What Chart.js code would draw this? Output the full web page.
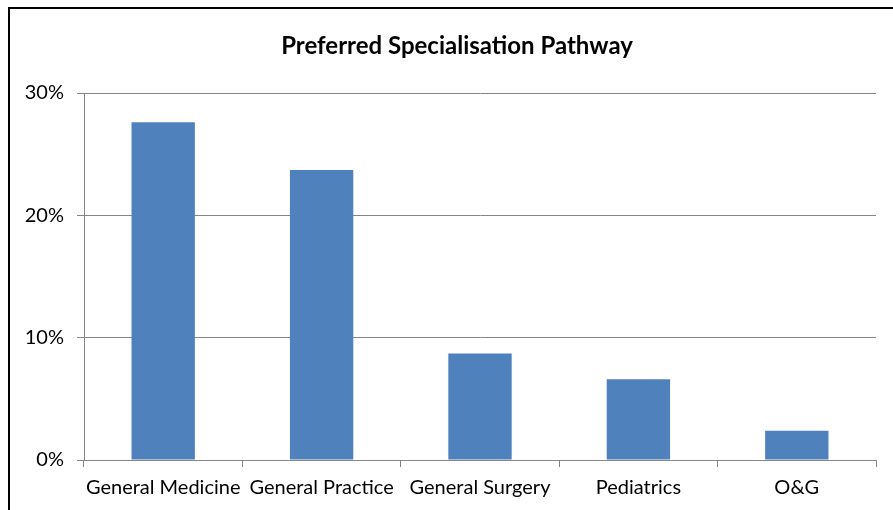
<!DOCTYPE html>
<html>
<head>
<meta charset="utf-8">
<script src="https://cdn.jsdelivr.net/npm/chart.js@4"></script>
<style>
  body { margin: 0; background: #fff; overflow: hidden; }
  #wrap { position: relative; width: 893px; height: 510px; }
  #box { position: absolute; left: 8px; top: 7px; width: 900px; height: 520px; border: 2px solid #000; box-sizing: border-box; pointer-events: none; }
</style>
</head>
<body>
<div id="wrap">
  <canvas id="myChart" width="893" height="510"></canvas>
  <div id="box"></div>
</div>
<script>
// preferred pathway, share of respondents (%)
var categories = ["General Medicine", "General Practice", "General Surgery", "Pediatrics", "O&G"];
var percents = [27.6, 23.7, 8.7, 6.6, 2.4];
var yTickLabels = ["0%", "10%", "20%", "30%"];
var chartTitle = "Preferred Specialisation Pathway";

var labelFont = { family: "Lato", size: 20 };

// title is centred on the outer frame, not the canvas, so draw it here
var titlePlugin = {
    id: 'frameTitle',
    afterDraw: function (chart) {
        var c = chart.ctx;
        c.save();
        c.fillStyle = '#000';
        c.font = 'bold 24px Lato';
        c.textAlign = 'center';
        c.textBaseline = 'middle';
        c.fillText(chartTitle, 457, 46);
        c.restore();
    }
};

const ctx = document.getElementById('myChart');
const myChart = new Chart(ctx, {
    type: 'bar',
    data: {
        labels: categories,
        datasets: [{
            label: chartTitle,
            data: percents,
            backgroundColor: '#4F81BD',
            borderWidth: 0,
            categoryPercentage: 1,
            barPercentage: 0.4
        }]
    },
    options: {
        responsive: false,
        animation: false,
        layout: {
            padding: { left: 12, right: 17, top: 93, bottom: 0 }
        },
        plugins: {
            legend: { display: false },
            tooltip: { enabled: false },
            title: { display: false }
        },
        scales: {
            x: {
                offset: true,
                grid: {
                    offset: true,
                    drawOnChartArea: false,
                    drawTicks: true,
                    tickLength: 7,
                    color: '#868686'
                },
                border: { display: true, color: '#868686' },
                ticks: { color: '#000', font: labelFont, padding: 9, maxRotation: 0, autoSkip: false },
                afterFit: function (scale) { scale.height = 50; }
            },
            y: {
                min: 0,
                max: 30,
                grid: { color: '#868686', tickLength: 7 },
                border: { display: true, color: '#868686' },
                ticks: {
                    stepSize: 10,
                    color: '#000',
                    font: labelFont,
                    padding: 13,
                    callback: function (v, i) { return yTickLabels[i]; }
                },
                afterFit: function (scale) { scale.width = 72; }
            }
        }
    },
    plugins: [titlePlugin]
});
</script>
</body>
</html>
